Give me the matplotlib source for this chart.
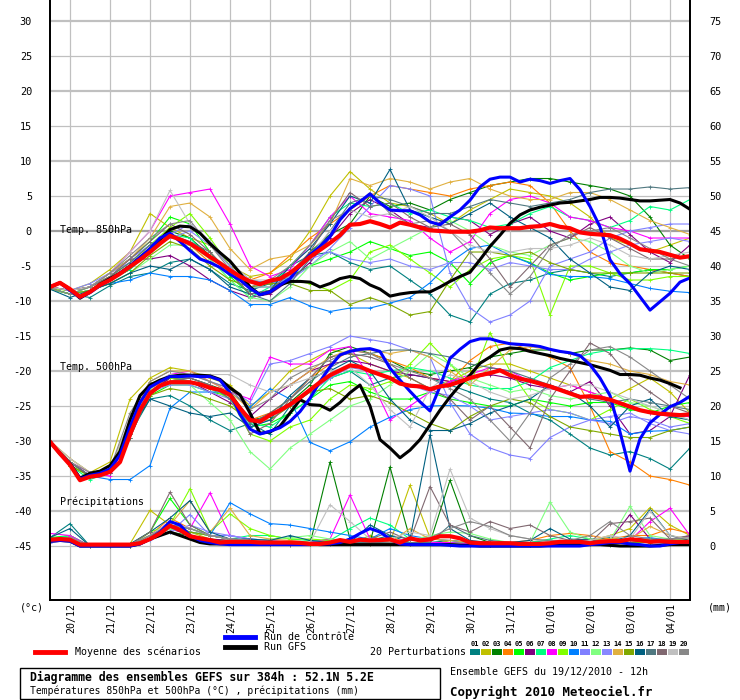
import numpy as np
import matplotlib
matplotlib.use("Agg")
import matplotlib.pyplot as plt
from matplotlib.lines import Line2D
from matplotlib.patches import Rectangle

plt.rcParams['font.family'] = ['DejaVu Sans Mono']

# ---------------- data ----------------
hours = np.arange(0, 385, 6)        # 6h steps, 19/12 12h -> +384h
hours_p = np.arange(0, 385, 12)     # perturbations read every 12h
date_hours = np.arange(12, 384, 24)
dates = ["20/12", "21/12", "22/12", "23/12", "24/12", "25/12", "26/12", "27/12",
         "28/12", "29/12", "30/12", "31/12", "01/01", "02/01", "03/01", "04/01"]

pert_colors = ["#008080", "#c0c000", "#008000", "#ff8000", "#00ff00", "#800080", "#00ff80",
               "#ff00ff", "#80ff00", "#0080ff", "#8080ff", "#80ff80", "#8888ff", "#e0b040",
               "#80a800", "#006080", "#507880", "#806870", "#c0c0c0", "#888888"]

mean_t850 = [-8.0, -7.4, -8.3, -9.4, -8.7, -7.7, -7.0, -6.1, -5.1, -4.1, -3.0, -1.8, -0.7, -1.2, -1.8, -2.7,
             -3.7, -4.6, -5.6, -6.5, -7.2, -7.6, -7.1, -6.8, -6.0, -4.9, -3.7, -2.7, -1.7, -0.6, 0.9, 1.0,
             1.4, 1.0, 0.5, 1.2, 0.9, 0.5, 0.1, 0.0, -0.1, -0.1, -0.1, 0.1, 0.5, 0.4, 0.4, 0.4,
             0.6, 0.7, 1.0, 0.6, 0.4, -0.2, -0.4, -0.5, -0.6, -1.1, -1.8, -2.6, -2.8, -3.0, -3.4, -3.8, -3.6]
gfs_t850 = [-8.0, -7.4, -8.3, -9.6, -8.7, -7.6, -6.8, -6.0, -5.0, -3.8, -2.6, -1.2, 0.2, 0.7, 0.6, -0.3,
            -1.8, -3.1, -4.3, -6.0, -8.0, -9.1, -8.7, -7.7, -7.2, -7.2, -7.3, -8.0, -7.5, -6.8, -6.5, -6.8,
            -7.7, -8.3, -9.3, -9.0, -8.8, -8.7, -8.7, -8.0, -7.2, -6.5, -5.9, -4.1, -2.2, -0.6, 1.1, 2.3,
            3.0, 3.4, 3.7, 4.0, 4.1, 4.3, 4.5, 4.8, 4.8, 4.7, 4.5, 4.3, 4.3, 4.4, 4.5, 4.0, 3.1]
ctrl_t850 = [-8.0, -7.4, -8.5, -9.5, -8.8, -7.8, -7.0, -6.0, -5.0, -3.8, -2.5, -1.0, -0.3, -1.5, -2.8, -4.0,
             -4.5, -5.2, -6.2, -7.0, -8.2, -9.1, -8.7, -7.7, -6.8, -5.0, -3.4, -2.2, -0.8, 1.6, 3.2, 4.2,
             5.3, 4.0, 3.0, 2.9, 2.9, 2.3, 1.3, 0.9, 2.0, 3.0, 4.4, 6.3, 7.4, 7.7, 7.7, 7.0,
             7.4, 7.2, 6.8, 7.2, 7.5, 5.9, 3.5, 0.6, -4.1, -6.1, -7.5, -9.4, -11.3, -10.1, -8.9, -7.3, -6.7]

mean_t500 = [-30.1, -31.8, -33.4, -35.6, -35.1, -34.9, -34.4, -33.0, -29.1, -25.6, -23.2, -22.1, -21.6, -21.6, -21.6, -21.9,
             -22.4, -22.7, -23.4, -25.3, -27.0, -27.2, -26.3, -25.6, -24.8, -23.8, -22.7, -21.6, -20.6, -19.9, -19.2, -19.4,
             -20.0, -20.5, -21.0, -21.8, -22.1, -22.2, -22.6, -22.2, -22.0, -21.5, -21.0, -20.6, -20.3, -19.9, -20.6, -21.1,
             -21.4, -21.8, -22.2, -22.7, -23.2, -23.7, -23.6, -23.8, -24.1, -24.6, -25.1, -25.6, -25.9, -26.1, -26.2, -26.3, -26.2]
gfs_t500 = [-30.1, -31.8, -33.2, -35.3, -34.6, -34.3, -33.5, -31.5, -27.0, -23.5, -22.0, -21.3, -20.8, -20.6, -20.6, -20.6,
            -20.7, -21.2, -22.4, -23.4, -26.0, -28.9, -28.7, -27.9, -26.0, -24.1, -24.8, -24.9, -25.6, -24.5, -23.1, -22.0,
            -25.0, -29.8, -31.0, -32.4, -31.3, -29.8, -27.7, -25.6, -23.7, -22.0, -20.6, -18.9, -18.0, -17.0, -16.7, -16.8,
            -17.2, -17.5, -17.8, -18.2, -18.5, -18.8, -19.1, -19.5, -19.9, -20.5, -20.5, -20.6, -21.0, -21.3, -21.8, -22.4]
ctrl_t500 = [-30.1, -31.8, -33.3, -35.4, -34.9, -34.6, -34.0, -32.0, -28.0, -24.5, -22.3, -21.5, -20.8, -20.8, -20.7, -20.8,
             -20.8, -21.3, -23.1, -26.2, -28.3, -29.0, -28.6, -28.1, -27.2, -25.8, -23.9, -21.5, -19.4, -17.7, -17.2, -16.9,
             -16.8, -17.2, -19.6, -21.3, -22.9, -24.4, -25.7, -22.2, -18.2, -16.9, -15.8, -15.4, -15.4, -15.8, -16.1, -16.2,
             -16.3, -16.5, -16.9, -17.2, -17.4, -17.8, -19.1, -21.0, -23.5, -28.7, -34.3, -29.7, -27.4, -26.2, -25.1, -24.5, -23.6]

mean_rr = [0.9, 1.0, 0.9, 0.2, 0.2, 0.2, 0.2, 0.2, 0.2, 0.4, 1.0, 1.8, 2.9, 2.3, 1.4, 1.1,
           0.85, 0.5, 0.6, 0.6, 0.6, 0.5, 0.5, 0.5, 0.5, 0.45, 0.3, 0.3, 0.5, 0.85, 0.6, 0.9,
           0.8, 0.85, 0.95, 0.5, 1.1, 0.8, 0.95, 1.4, 1.4, 1.1, 0.5, 0.4, 0.4, 0.4, 0.4, 0.3,
           0.3, 0.3, 0.4, 0.6, 0.6, 0.6, 0.4, 0.6, 0.7, 0.7, 0.95, 0.85, 0.6, 0.7, 0.6, 0.6, 0.6]
gfs_rr = [0.7, 0.8, 0.7, 0, 0, 0, 0, 0, 0, 0.3, 1.0, 1.5, 2.0, 1.5, 1.0, 0.5,
          0.3, 0.3, 0.3, 0.3, 0.3, 0.3, 0.3, 0.3, 0.5, 0.3, 0.3, 0.2, 0.2, 0.2, 0.2, 0.2,
          0.2, 0.2, 0.2, 0.2, 0.2, 0.2, 0.2, 0.2, 0.2, 0.1, 0.1, 0, 0, 0, 0, 0,
          0, 0, 0.1, 0.1, 0.2, 0.2, 0.2, 0.2, 0.1, 0, 0, 0, 0, 0.1, 0.2, 0.2, 0.2]
ctrl_rr = [0.7, 0.8, 0.7, 0, 0, 0, 0, 0, 0, 0.3, 1.0, 2.0, 3.5, 3.0, 1.5, 0.8,
           0.5, 0.3, 0.2, 0.2, 0.2, 0.2, 0.2, 0.2, 0.2, 0.2, 0.2, 0.3, 0.3, 0.5, 1.0, 1.8,
           2.5, 2.0, 1.0, 0.3, 0.2, 0.2, 0.2, 0.2, 0.1, 0, 0, 0, 0, 0, 0, 0,
           0, 0, 0, 0, 0, 0, 0.2, 0.3, 0.5, 0.5, 0.3, 0.2, 0, 0, 0.3, 0.5, 0.5]

pert_t850 = [
    [-8.2, -9.0, -9.5, -7.8, -6.5, -6.0, -4.5, -4.0, -5.5, -7.5, -8.5, -7.5, -5.0, -3.5, -3.0, -4.5, -5.5, -5.0, -7.0, -9.0, -12.0, -13.0, -9.0, -7.5, -7.0, -6.0, -5.5, -6.0, -6.5, -6.0, -5.5, -6.0, -6.5],
    [-8.0, -8.5, -7.5, -5.5, -3.0, 2.5, 0.5, -1.0, -2.0, -5.0, -6.5, -6.0, -4.0, 0.0, 5.0, 8.5, 6.0, 4.0, 3.5, 2.5, 1.0, 3.0, 4.5, 6.0, 5.5, 5.0, 4.0, 2.0, -1.0, -2.0, -3.0, -2.0, -1.0],
    [-8.3, -9.0, -8.5, -7.0, -5.5, -2.5, 0.0, -1.0, -3.5, -5.5, -7.0, -7.5, -6.5, -3.0, -0.5, 1.0, 5.0, 3.5, 4.0, 3.0, 4.5, 5.5, 6.5, 7.0, 7.5, 7.5, 7.0, 6.5, 6.0, 5.0, 2.0, -2.0, -4.0],
    [-8.1, -8.5, -8.0, -6.5, -4.5, -2.0, -0.5, -2.0, -4.5, -6.0, -7.0, -6.0, -3.5, -1.0, 1.0, 3.0, 5.0, 6.5, 6.0, 5.5, 5.0, 6.0, 6.5, 7.0, 6.5, 4.0, 0.0, -3.0, -4.5, -5.0, -5.5, -6.0, -6.5],
    [-8.2, -9.0, -8.0, -6.0, -4.0, -1.5, 2.0, 1.0, -3.0, -6.5, -9.0, -8.5, -6.5, -5.0, -4.0, -3.0, -1.5, -2.5, -3.5, -3.0, -4.5, -7.5, -4.5, -3.5, -4.5, -6.0, -7.0, -6.5, -6.0, -6.0, -5.5, -5.5, -5.0],
    [-8.0, -8.5, -8.0, -6.0, -4.0, -4.0, -3.5, -5.0, -7.0, -8.5, -9.5, -9.0, -7.0, -4.5, -1.0, 2.5, 4.5, 3.0, 1.0, 0.5, 2.0, 1.5, -0.5, 1.0, 2.0, 0.0, -1.0, 1.0, 2.0, -0.5, -3.0, -4.5, -2.0],
    [-8.2, -9.0, -8.5, -7.0, -5.5, -3.0, -0.5, -1.0, -4.0, -7.0, -9.5, -8.0, -5.0, -2.0, 2.0, 4.0, 3.5, 4.0, 2.5, 3.0, 2.0, 1.5, 0.5, 1.0, 2.5, 3.5, 2.0, 1.5, 0.5, 1.5, 3.5, 3.0, 4.5],
    [-8.0, -8.5, -8.0, -6.0, -3.0, 0.0, 5.0, 5.5, 6.0, 1.0, -5.0, -6.5, -5.5, -2.0, 2.0, 5.0, 2.5, 2.0, 1.5, -1.0, -3.0, -1.5, 2.5, 4.5, 5.0, 4.0, 2.0, 1.5, 0.5, 0.0, -1.0, -1.0, -1.0],
    [-8.2, -8.5, -8.0, -6.5, -4.5, -2.0, 0.5, 2.5, -1.0, -5.0, -8.0, -8.0, -7.0, -7.5, -8.5, -7.0, -3.0, -2.0, -4.0, -6.0, -8.0, -5.5, -4.0, -3.5, -4.0, -12.0, -5.0, -5.0, -6.0, -7.0, -7.0, -6.5, -6.5],
    [-8.2, -9.0, -8.5, -7.5, -7.0, -6.0, -6.5, -6.5, -7.0, -8.5, -10.5, -10.5, -9.5, -10.7, -11.5, -11.0, -11.0, -10.3, -9.5, -7.4, -4.5, -2.5, -2.0, -3.5, -4.6, -6.2, -6.5, -6.5, -6.8, -7.5, -8.2, -8.6, -8.8],
    [-8.0, -8.5, -8.0, -6.0, -4.0, -2.0, -0.5, 1.0, -1.5, -4.5, -7.0, -7.5, -7.0, -5.0, -2.5, 0.5, 3.5, 6.5, 6.0, 5.0, -6.0, -11.0, -13.0, -12.0, -10.0, -5.0, -4.0, -3.0, -1.0, 0.0, 0.5, 1.0, 1.0],
    [-8.3, -9.0, -8.5, -7.5, -6.0, -4.0, -2.0, -2.0, -4.0, -7.0, -9.5, -10.0, -8.0, -5.0, -3.0, -1.5, -4.0, -2.5, -1.0, 0.5, 1.5, 0.0, -2.0, -3.0, -3.5, -2.0, -1.0, -1.5, -3.0, -5.0, -6.0, -5.5, -5.0],
    [-8.0, -8.5, -7.5, -6.0, -4.5, -2.5, -1.0, 0.0, -2.0, -5.0, -8.0, -8.0, -6.5, -4.0, -3.0, -4.0, -4.5, -4.0, -5.0, -5.5, -4.5, -4.5, -5.5, -4.5, -5.0, -5.5, -5.5, -4.0, -3.0, -2.0, -1.5, -1.0, -1.5],
    [-8.0, -8.5, -8.0, -6.0, -4.0, -1.0, 3.5, 4.0, 2.0, -2.5, -5.5, -4.0, -3.5, -2.0, 1.0, 7.5, 6.5, 7.5, 7.0, 6.0, 7.0, 7.5, 6.0, 5.0, 4.5, 4.5, 5.5, 5.5, 4.5, 3.0, 1.5, 0.5, -0.5],
    [-8.2, -9.0, -8.5, -7.5, -6.0, -3.5, -1.5, -2.5, -5.0, -7.0, -8.0, -7.5, -7.5, -8.5, -8.5, -10.5, -9.5, -10.5, -12.0, -11.5, -7.0, -3.0, -3.0, -3.5, -3.0, -4.5, -5.5, -6.0, -6.0, -6.0, -6.0, -6.0, -6.0],
    [-8.3, -9.5, -8.5, -7.5, -6.0, -5.0, -5.5, -4.0, -5.5, -8.0, -9.0, -8.5, -5.0, -2.5, 1.0, 5.0, 4.0, 8.8, 3.0, 2.0, 1.0, 2.5, 4.0, 2.0, 0.5, -1.0, -4.0, -6.0, -8.0, -8.5, -6.0, -5.0, -5.5],
    [-8.0, -8.5, -8.0, -6.5, -4.5, -2.0, -0.5, -1.5, -3.0, -6.0, -9.0, -10.0, -7.5, -4.0, 0.0, 4.0, 5.0, 4.5, 3.5, 2.5, 2.5, 3.5, 4.5, 4.0, 3.5, 4.0, 4.5, 5.5, 6.0, 6.0, 6.3, 6.0, 6.2],
    [-8.0, -8.5, -8.0, -6.5, -4.0, -1.5, 1.0, -0.5, -3.0, -6.0, -9.0, -8.5, -6.0, -3.0, 1.5, 5.5, 3.5, 4.0, 2.0, 0.5, 1.0, -0.5, -4.0, -8.0, -5.0, -2.0, -1.0, 0.5, -1.0, -2.5, -4.0, -4.0, -3.5],
    [-8.0, -8.5, -8.0, -6.0, -3.0, 0.0, 5.8, 1.0, -1.5, -4.5, -7.0, -7.0, -6.5, -3.5, 0.0, 3.0, 2.0, 2.5, 3.5, 2.0, 0.0, -2.0, -3.0, -3.0, -2.5, -2.5, -2.0, -1.0, -2.0, -3.5, -4.0, -3.5, -3.0],
    [-8.2, -9.0, -8.0, -6.0, -3.5, -1.0, 1.0, 1.5, -2.0, -5.5, -8.0, -7.0, -5.0, -2.0, 1.5, 3.0, 5.5, 2.5, 1.0, 1.5, 0.0, -3.0, -6.0, -9.0, -6.5, -2.5, -0.5, 0.0, 0.5, -1.0, -2.5, -4.0, -5.0],
]

pert_t500 = [
    [-30, -33, -35, -34.5, -29, -24, -23.5, -25, -27, -28.5, -27.5, -29, -25, -23, -21, -20, -22, -21, -20.5, -21, -22, -23, -24, -24.5, -26, -27, -29, -31, -32, -31.5, -32.5, -34, -31],
    [-30, -32.5, -34.5, -33, -24, -21, -19.5, -20, -21, -22, -25, -23, -20, -18.5, -17, -17.5, -19, -20, -21, -22.5, -21.5, -20, -19, -19, -20, -21, -22, -23, -24, -22.5, -21, -23, -26],
    [-30, -33.5, -35, -34.5, -29, -23, -21, -21, -22, -23, -27, -26.5, -24.5, -22, -17.5, -16.5, -17.5, -18.5, -20, -20.5, -20, -19.5, -18, -17.5, -17, -17, -17.5, -17, -17, -16.7, -17, -18.5, -18],
    [-30, -33, -35, -34.5, -28, -22.5, -21, -21.5, -22, -24, -27, -26, -24, -21, -19, -17, -17.5, -18.5, -19.5, -21, -21.5, -18.5, -16.5, -16, -17, -18, -19.5, -25, -31.5, -33, -35, -35.5, -36.3],
    [-30, -33, -35, -34, -29, -23.5, -22, -22, -23, -23.5, -28, -27.5, -26, -24, -22, -21.5, -23, -24, -24, -23, -24, -24.5, -25, -25, -24, -24.5, -25, -24.5, -24.5, -25.5, -26, -25, -24.5],
    [-30, -33, -35, -34.5, -29.5, -23, -21, -21.5, -23, -24.5, -26.5, -24, -22, -20, -19, -18.5, -19, -20, -20.5, -21, -21.5, -21, -20.5, -21, -22, -22.5, -23, -21.5, -25, -29, -28.5, -26.5, -20.5],
    [-30, -33.5, -35.5, -34.5, -29.5, -23, -21.5, -21.5, -22.5, -23, -27.5, -28, -26, -24, -21, -20, -20.5, -20, -19.5, -20, -21, -22, -22.5, -22.5, -21.5, -19.5, -18.5, -17.5, -17, -16.8, -16.8, -17, -17.5],
    [-30, -33, -34.5, -35, -29, -22.5, -20.5, -20, -21.5, -23, -24, -18, -19, -19, -17, -16.5, -21, -27, -25, -23, -21.5, -20.5, -19.5, -20, -21.5, -22.5, -22, -23, -24, -25, -26, -26.5, -26.5],
    [-30, -33.5, -35, -34, -28, -22, -21, -21.5, -22.5, -24, -29, -30, -28, -27, -24, -22, -22.5, -21.5, -19, -16, -19, -22, -14.5, -20, -24, -25.5, -26, -27, -25.5, -24, -25.5, -26.5, -27.5],
    [-30, -33, -35, -35.5, -35.5, -33.5, -25.3, -23, -23, -23, -25.2, -22.5, -24, -30.2, -31.4, -30.1, -28, -26.6, -25.5, -25, -24.9, -25, -25.3, -26, -26.1, -26.5, -26.5, -27, -27.2, -29, -28.6, -28.5, -28],
    [-30, -33, -35, -34.5, -28.5, -22, -20.5, -20.5, -21.5, -22.5, -24.5, -19, -18.5, -17.5, -16.5, -15, -15.5, -16, -17, -18, -24.5, -29, -31, -32, -32.5, -29.5, -28, -27, -27.5, -26.5, -27, -28, -27.5],
    [-30, -33, -35, -34, -28.5, -22.5, -22, -22, -24.5, -27, -31.5, -34, -31, -29, -27, -25, -24, -22, -20, -17.5, -19, -21, -22, -23, -22.5, -23.5, -24, -23.5, -23, -24.5, -25, -26, -27],
    [-30, -33, -35, -34.5, -29, -23, -22, -22, -23, -24, -28, -27, -25, -23, -21, -19.5, -20, -21, -22, -23, -23.5, -25, -27, -26.5, -26, -25.5, -26, -27, -26.5, -26, -27.5, -28.5, -29],
    [-30, -32.5, -34.5, -34, -27, -21.5, -20, -20, -21.5, -23, -25.5, -23, -22, -20, -18, -17, -17, -17.5, -17, -18, -20, -22, -19.5, -17, -16.5, -17, -17.5, -18.5, -19, -20, -20.5, -21.5, -22],
    [-30, -33.5, -35, -34.5, -29, -23.5, -22.5, -23, -24, -25, -27, -27, -25, -23, -22.5, -24, -23.5, -24.5, -26, -27.5, -28.5, -26.5, -25, -24, -24.5, -26.5, -28, -28.5, -29, -29.5, -29.5, -28.5, -28],
    [-30, -33, -35, -34, -28.5, -24, -25, -26, -26.5, -26, -28, -27, -23.5, -21, -20, -18.5, -20, -24, -27, -28.5, -28.5, -27.5, -26, -25, -24, -22, -23, -25, -28, -25, -24, -26.5, -27],
    [-30, -33, -35, -34.5, -28, -23, -21.5, -21, -22, -24, -27.5, -26, -24, -21.5, -19.5, -18, -17.5, -17, -17, -17.5, -18, -19, -19.5, -20, -21, -22, -23, -24, -24.5, -24, -24.5, -25, -25.5],
    [-30, -33, -35, -34.5, -29.5, -23, -21.5, -21, -22, -23.5, -29, -27.5, -24, -21, -18, -17.5, -18, -19, -21, -22.5, -24, -27, -25, -28, -31, -24, -20, -16, -17.5, -21, -23, -25, -26],
    [-30, -32.5, -34.5, -34, -27, -22, -20.5, -20.5, -20.5, -20.5, -22, -23, -22, -21, -20, -19.5, -22, -25.5, -28, -22.5, -20.5, -21.5, -23, -24, -23.5, -22.5, -22, -22, -23, -24, -25, -26, -27],
    [-30, -33, -34.5, -34, -26, -21.5, -20, -20.5, -21.5, -22.5, -25.5, -24, -21, -19.5, -18.5, -17, -17.5, -19, -20, -21, -22.5, -24, -27, -30, -26, -21, -19, -17, -16.5, -18, -20, -22, -24],
]

pert_rr = [
    [1.2, 3.2, 0, 0, 0.2, 1.5, 2.5, 2, 1.5, 1, 0.8, 0.5, 0.3, 0.5, 1, 0.5, 0.8, 1.5, 0.5, 0.5, 0.8, 0.5, 0.3, 0.2, 0.5, 0.8, 0.5, 0.8, 1.2, 0.8, 1.0, 0.8, 0.5],
    [1.0, 1.5, 0, 0, 0.3, 5.1, 3, 2, 1, 0.8, 0.5, 0.5, 0.3, 0.8, 0.5, 0.3, 1.5, 0.5, 8.7, 1.2, 0.5, 0.3, 0.2, 0.3, 0.5, 0.3, 0.5, 0.8, 1.5, 2.5, 5.5, 3, 1.5],
    [0.8, 1, 0, 0, 0, 1, 2, 1.5, 1, 0.5, 0.5, 0.3, 0.2, 0.3, 12, 1, 0.5, 11.3, 1, 0.5, 9.4, 1.5, 0.5, 0.2, 0.2, 0.3, 0.5, 0.3, 0.2, 0.5, 0.8, 0.3, 0.5],
    [1, 1.2, 0, 0, 0, 1.5, 4, 2.5, 1.5, 1, 0.8, 0.5, 0.5, 0.3, 0.5, 1, 0.5, 0.8, 1.0, 0.5, 0.5, 0.3, 0.3, 0.5, 0.8, 1.5, 1.8, 1.5, 1, 1.5, 1.5, 2.5, 1.8],
    [1.2, 1.5, 0, 0, 0.2, 2, 6.8, 3, 1.5, 1, 0.8, 0.5, 0.3, 0.3, 0.5, 0.3, 0.3, 0.5, 0.3, 0.3, 0.5, 0.3, 0.2, 0.3, 0.5, 0.5, 0.8, 1, 0.5, 0.8, 0.8, 1, 0.8],
    [0.8, 1, 0, 0, 0, 1.5, 2.5, 1.5, 1, 0.8, 0.5, 0.3, 0.3, 0.5, 0.5, 0.5, 0.3, 0.3, 0.3, 0.3, 0.3, 0.2, 0.2, 0.3, 0.3, 0.5, 0.8, 1, 0.8, 4.5, 1, 0.8, 1.5],
    [1, 1.5, 0, 0, 0, 1.5, 3, 2.5, 1.5, 1, 1.5, 1.5, 1, 0.8, 0.8, 2.5, 4, 3, 1, 0.5, 0.5, 0.3, 0.5, 0.3, 0.5, 1, 1.5, 1, 0.8, 1, 0.8, 0.5, 0.5],
    [1.8, 1.5, 0, 0, 0.2, 1.5, 3.5, 2.5, 7.6, 1.5, 1, 0.5, 0.3, 0.5, 1, 7.3, 1, 0.5, 1.2, 0.5, 0.5, 0.3, 0.3, 0.2, 0.3, 0.5, 0.5, 0.8, 0.8, 0.8, 3.5, 5.4, 1.5],
    [1, 1.2, 0, 0, 0, 2, 3, 8.2, 2, 4.6, 2.5, 1.5, 1, 1, 0.8, 0.5, 0.5, 0.3, 0.3, 0.2, 0.2, 0.2, 0.2, 0.3, 0.5, 0.5, 0.5, 0.5, 0.8, 0.8, 0.8, 0.5, 0.5],
    [0.8, 1, 0, 0, 0, 1, 2.5, 2, 1.5, 6.2, 4.6, 3.2, 3.0, 2.5, 2, 1.5, 1, 2.5, 1.5, 1, 0.8, 0.5, 0.5, 0.3, 0.3, 0.5, 0.3, 0.5, 0.8, 1, 1.2, 0.8, 0.5],
    [0.5, 0.8, 0, 0, 0, 0.8, 2, 4.5, 1.5, 1.5, 1, 0.8, 0.5, 0.5, 0.5, 0.8, 0.5, 0.5, 0.5, 0.3, 0.3, 0.2, 0.2, 0.2, 0.3, 0.3, 0.5, 0.3, 0.3, 0.5, 0.5, 0.3, 0.3],
    [1, 1.2, 0, 0, 0.2, 1, 2.5, 2, 1.5, 1, 0.8, 1, 1.2, 1.5, 1, 0.8, 0.8, 0.5, 0.8, 1.5, 2, 1.8, 1, 0.5, 0.5, 6.3, 2, 1, 0.8, 5.7, 1.5, 1, 0.8],
    [0.8, 1, 0, 0, 0, 1, 2, 3, 2, 1.5, 1, 0.8, 0.5, 0.5, 0.3, 0.3, 0.3, 0.3, 0.3, 0.3, 0.2, 0.2, 0.2, 0.2, 0.2, 0.3, 0.3, 0.3, 0.3, 0.5, 0.5, 0.5, 0.5],
    [1, 1.2, 0, 0, 0.2, 1.5, 3, 6.5, 2, 5.4, 1.5, 1, 0.8, 0.5, 0.5, 0.5, 1, 0.5, 2.5, 1, 0.8, 0.5, 0.3, 0.3, 0.5, 0.5, 0.8, 0.8, 1, 1, 2.8, 1.5, 1],
    [0.8, 1, 0, 0, 0, 1.5, 3, 2, 1.5, 1, 0.8, 0.5, 0.5, 0.5, 0.3, 0.3, 0.3, 0.3, 0.3, 0.3, 0.3, 0.2, 0.2, 0.2, 0.2, 0.3, 0.3, 0.3, 0.3, 0.5, 0.5, 0.5, 0.5],
    [1.2, 2.5, 0, 0, 0.3, 2, 4, 6.5, 2, 1, 1, 0.8, 1.5, 0.8, 0.5, 0.5, 3, 1.5, 1, 15.9, 2.5, 0.8, 0.5, 0.5, 0.8, 2.5, 1, 0.8, 0.5, 1.5, 5.2, 1.5, 0.8],
    [1, 1.2, 0, 0, 0.2, 1.5, 3, 2.5, 1.5, 1, 0.8, 0.5, 0.5, 0.5, 0.5, 0.5, 0.5, 0.5, 0.5, 0.5, 3, 1.5, 0.8, 0.5, 0.5, 0.5, 0.8, 0.8, 0.8, 0.8, 0.8, 0.8, 0.8],
    [1, 1.2, 0, 0, 0.2, 2, 7.7, 3, 1.5, 1, 0.8, 0.5, 0.5, 0.5, 0.5, 0.5, 1, 2, 0.8, 8.5, 3, 2, 3.5, 2.5, 3, 1.5, 0.8, 0.5, 3.2, 3.5, 4, 1, 1.5],
    [1, 1.2, 0, 0, 0.2, 1.5, 3.5, 2.5, 1.5, 1, 0.8, 0.5, 0.5, 0.5, 5.9, 3.5, 1, 1, 2, 1.5, 11, 4, 2.5, 1.5, 1, 0.5, 0.5, 0.8, 1.5, 1, 5, 1.5, 1],
    [1, 1.2, 0, 0, 0.2, 1.5, 3, 2.5, 1.5, 1, 0.8, 0.5, 0.5, 0.5, 0.5, 0.5, 0.8, 0.5, 0.8, 1.2, 2.5, 3.5, 2.8, 1.5, 1, 0.8, 0.8, 1.5, 3.5, 1.5, 1, 1, 1.2],
]

RR_OFFSET = 45  # precipitation 0 mm sits on the -45 line


def px(x, y):
    # pixel position -> figure fraction
    return x / 740, 1 - y / 700


def main():
    fig = plt.figure(figsize=(7.4, 7.0), dpi=100)
    ax = fig.add_axes([50 / 740, 100 / 700, 640 / 740, 600 / 700])
    ax.set_xlim(0, 384)
    ax.set_ylim(-52.71, 33.0)

    # grid
    for v in range(-45, 31, 5):
        if v == 0:
            ax.axhline(v, color="#a0a0a0", lw=1.6, zorder=0)
        elif v % 10 == 0:
            ax.axhline(v, color="#c0c0c0", lw=1.6, zorder=0)
        else:
            ax.axhline(v, color="#c0c0c0", lw=0.9, zorder=0)
    for h in date_hours:
        ax.axvline(h, color="#c0c0c0", lw=0.9, zorder=0)

    # perturbations
    for k in range(20):
        c = pert_colors[k]
        kw = dict(color=c, lw=0.8, marker="+", ms=2.5, mew=0.6, zorder=2)
        ax.plot(hours_p, pert_t850[k], **kw)
        ax.plot(hours_p, pert_t500[k], **kw)
        ax.plot(hours_p, np.array(pert_rr[k]) - RR_OFFSET, **kw)

    # GFS run, control run, mean
    ax.plot(hours, gfs_t850, color="black", lw=2.2, zorder=3)
    ax.plot(hours[:len(gfs_t500)], gfs_t500, color="black", lw=2.2, zorder=3)
    ax.plot(hours, np.array(gfs_rr) - RR_OFFSET, color="black", lw=2.2, zorder=3)

    ax.plot(hours, ctrl_t850, color="#0000ff", lw=2.2, zorder=4)
    ax.plot(hours, ctrl_t500, color="#0000ff", lw=2.2, zorder=4)
    ax.plot(hours, np.array(ctrl_rr) - RR_OFFSET, color="#0000ff", lw=2.2, zorder=4)

    ax.plot(hours, mean_t850, color="#ff0000", lw=3.0, zorder=5)
    ax.plot(hours, mean_t500, color="#ff0000", lw=3.0, zorder=5)
    ax.plot(hours, np.array(mean_rr) - RR_OFFSET, color="#ff0000", lw=3.0, zorder=5)

    # axes
    yt = list(range(-45, 31, 5))
    ax.set_yticks(yt)
    ax.set_yticklabels([str(v) for v in yt], fontsize=7.4)
    ax.set_xticks([])
    ax.tick_params(axis="y", length=0, pad=13)
    ax2 = ax.twinx()
    ax2.set_ylim(ax.get_ylim())
    ax2.set_yticks(yt)
    ax2.set_yticklabels([str(v + RR_OFFSET) for v in yt], fontsize=7.4)
    ax2.tick_params(axis="y", length=0, pad=14)
    for a in (ax, ax2):
        a.spines["top"].set_visible(False)
        for s in ("left", "right", "bottom"):
            a.spines[s].set_linewidth(1.3)
            a.spines[s].set_color("black")

    # date labels
    for h, d in zip(date_hours, dates):
        x = 50 + h / 384 * 640
        fig.text(*px(x + 1, 603), d, rotation=90, ha="center", va="top", fontsize=7.2)

    fig.text(*px(20, 607), "(°c)", ha="left", va="center", fontsize=7.2)
    fig.text(*px(708, 607), "(mm)", ha="left", va="center", fontsize=7.2)

    fig.text(*px(60, 230), "Temp. 850hPa", ha="left", va="center", fontsize=7.2, zorder=6)
    fig.text(*px(60, 367), "Temp. 500hPa", ha="left", va="center", fontsize=7.2, zorder=6)
    fig.text(*px(60, 502), "Précipitations", ha="left", va="center", fontsize=7.2, zorder=6)

    # legend
    fig.add_artist(Line2D([35 / 740, 65 / 740], [1 - 652 / 700] * 2, color="#ff0000", lw=3.5))
    fig.text(*px(75, 652), "Moyenne des scénarios", ha="left", va="center", fontsize=7.2)
    fig.add_artist(Line2D([225 / 740, 255 / 740], [1 - 637 / 700] * 2, color="#0000ff", lw=3.5))
    fig.text(*px(264, 637), "Run de contrôle", ha="left", va="center", fontsize=7.2)
    fig.add_artist(Line2D([225 / 740, 255 / 740], [1 - 647 / 700] * 2, color="black", lw=3.5))
    fig.text(*px(264, 647), "Run GFS", ha="left", va="center", fontsize=7.2)
    fig.text(*px(370, 652), "20 Perturbations", ha="left", va="center", fontsize=7.2)
    for k, c in enumerate(pert_colors):
        x0 = 470 + 11 * k
        fig.add_artist(Rectangle(px(x0, 655), 10 / 740, 6 / 700, transform=fig.transFigure,
                                 facecolor=c, edgecolor="none"))
        fig.text(*px(x0 + 5, 644), "%02d" % (k + 1), ha="center", va="center",
                 fontsize=5, fontweight="bold")

    # title box
    fig.add_artist(Rectangle(px(20, 699), 420 / 740, 31 / 700, transform=fig.transFigure,
                             fill=False, edgecolor="black", lw=1.0))
    fig.text(*px(30, 677), "Diagramme des ensembles GEFS sur 384h : 52.1N 5.2E",
             ha="left", va="center", fontsize=8.3, fontweight="bold")
    fig.text(*px(30, 691), "Températures 850hPa et 500hPa (°C) , précipitations (mm)",
             ha="left", va="center", fontsize=7.0)
    fig.text(*px(450, 672), "Ensemble GEFS du 19/12/2010 - 12h", ha="left", va="center", fontsize=7.2)
    fig.text(*px(450, 692), "Copyright 2010 Meteociel.fr", ha="left", va="center",
             fontsize=8.9, fontweight="bold")

    fig.savefig("out.png", dpi=100, facecolor="white")


if __name__ == "__main__":
    main()
